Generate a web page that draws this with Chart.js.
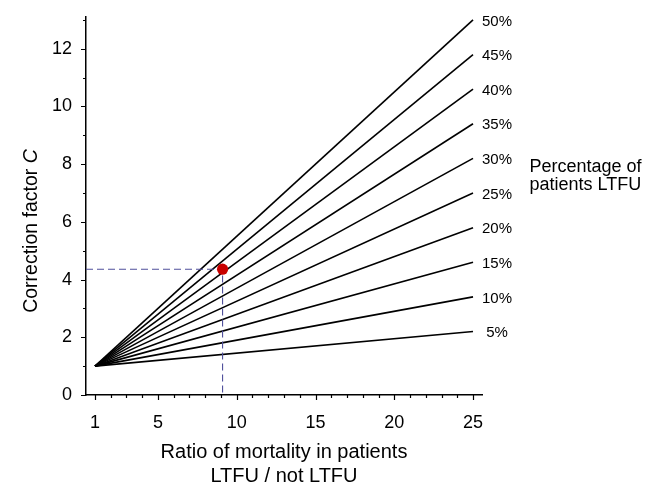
<!DOCTYPE html>
<html>
<head>
<meta charset="utf-8">
<script src="https://cdn.jsdelivr.net/npm/chart.js@4.4.1/dist/chart.umd.min.js"></script>
<style>
  html, body { margin: 0; padding: 0; background: #fff; }
  canvas { display: block; }
</style>
</head>
<body>
<canvas id="myChart" width="656" height="494"></canvas>
<script>
    // one line per percentage of patients lost to follow-up
    var pctLabels = ['5%', '10%', '15%', '20%', '25%', '30%', '35%', '40%', '45%', '50%'];
    // all lines start at ratio 1 / correction 1 and end at ratio 25
    var ratioStart = 1;
    var ratioEnd = 25;
    var cStart = 1;
    var cEnd = [2.2, 3.4, 4.6, 5.8, 7.0, 8.2, 9.4, 10.6, 11.8, 13.0];
    // worked example (red dot + dashed guides)
    var exampleRatio = 9.1;
    var exampleC = 4.36;
    var xTicks = [1, 5, 10, 15, 20, 25];
    var yTicks = [0, 2, 4, 6, 8, 10, 12];

    var fontFamily = "'Liberation Sans', Arial, sans-serif";
    var xMin = 0.43, xMax = 25.57, yMin = 0, yMax = 13.1;

    var datasets = [];
    datasets.push({
      data: [{x: exampleRatio, y: exampleC}],
      showLine: false,
      pointRadius: 5.6,
      pointBackgroundColor: '#c80000',
      pointBorderWidth: 0,
      order: 0
    });
    datasets.push({
      data: [{x: xMin, y: exampleC}, {x: exampleRatio, y: exampleC}, {x: exampleRatio, y: yMin}],
      showLine: true,
      borderColor: '#50509c',
      borderWidth: 1.1,
      borderDash: [7, 4],
      pointRadius: 0,
      order: 1
    });
    for (var i = 0; i < pctLabels.length; i++) {
      datasets.push({
        label: pctLabels[i],
        data: [{x: ratioStart, y: cStart}, {x: ratioEnd, y: cEnd[i]}],
        showLine: true,
        borderColor: '#000',
        borderWidth: 1.6,
        pointRadius: 0,
        order: 2
      });
    }

    // small outward tick marks, longer at labelled values
    var tickMarks = {
      id: 'tickMarks',
      afterDraw: function(chart) {
        var ctx = chart.ctx, xs = chart.scales.x, ys = chart.scales.y;
        ctx.save();
        ctx.strokeStyle = '#000';
        ctx.lineWidth = 1.2;
        ctx.beginPath();
        for (var v = 1; v <= 25; v++) {
          var px = Math.round(xs.getPixelForValue(v)) + 0.5;
          var len = xTicks.indexOf(v) >= 0 ? 5 : 3;
          ctx.moveTo(px, ys.bottom);
          ctx.lineTo(px, ys.bottom + len);
        }
        for (var w = 0; w <= 13; w++) {
          var py = Math.round(ys.getPixelForValue(w)) + 0.5;
          var len2 = yTicks.indexOf(w) >= 0 ? 5 : 3;
          ctx.moveTo(xs.left, py);
          ctx.lineTo(xs.left - len2, py);
        }
        ctx.stroke();
        ctx.restore();
      }
    };

    // percentage labels at the line ends, y axis title with italic C, side note
    var textBits = {
      id: 'textBits',
      afterDraw: function(chart) {
        var ctx = chart.ctx, xs = chart.scales.x, ys = chart.scales.y;
        ctx.save();
        ctx.fillStyle = '#000';
        ctx.font = '15px ' + fontFamily;
        ctx.textAlign = 'center';
        ctx.textBaseline = 'middle';
        for (var i = 0; i < pctLabels.length; i++) {
          ctx.fillText(pctLabels[i], xs.getPixelForValue(ratioEnd) + 24, ys.getPixelForValue(cEnd[i]) + 1.5);
        }

        ctx.textAlign = 'left';
        ctx.textBaseline = 'alphabetic';
        ctx.font = '18px ' + fontFamily;
        ctx.fillText('Percentage of', chart.chartArea.right + 47.5, 172.3);
        ctx.fillText('patients LTFU', chart.chartArea.right + 47.5, 190);

        var part1 = 'Correction factor ';
        var normalFont = '19.5px ' + fontFamily;
        var italicFont = 'italic 19.5px ' + fontFamily;
        ctx.font = normalFont;
        var w1 = ctx.measureText(part1).width;
        ctx.font = italicFont;
        var w2 = ctx.measureText('C').width;
        ctx.translate(37, 231);
        ctx.rotate(-Math.PI / 2);
        var start = -(w1 + w2) / 2;
        ctx.font = normalFont;
        ctx.fillText(part1, start, 0);
        ctx.font = italicFont;
        ctx.fillText('C', start + w1, 0);
        ctx.restore();
      }
    };

    var ctx = document.getElementById('myChart');
    var myChart = new Chart(ctx, {
      type: 'scatter',
      data: { datasets: datasets },
      options: {
        responsive: false,
        animation: false,
        events: [],
        layout: { padding: { left: 0, top: 17, right: 174, bottom: 0 } },
        plugins: {
          legend: { display: false },
          tooltip: { enabled: false }
        },
        scales: {
          x: {
            type: 'linear',
            min: xMin,
            max: xMax,
            afterBuildTicks: function(scale) {
              scale.ticks = xTicks.map(function(v) { return {value: v}; });
            },
            afterFit: function(scale) {
              scale.height = 99;
              scale.paddingLeft = 0;
              scale.paddingRight = 0;
            },
            grid: { display: true, drawOnChartArea: false, drawTicks: false },
            border: { display: true, color: '#000', width: 1.5 },
            ticks: {
              color: '#000',
              padding: 17,
              maxRotation: 0,
              font: { family: fontFamily, size: 18 }
            },
            title: {
              display: true,
              text: ['Ratio of mortality in patients', 'LTFU / not LTFU'],
              color: '#000',
              font: { family: fontFamily, size: 20, lineHeight: 1.17 },
              padding: { top: 0, bottom: 6 }
            }
          },
          y: {
            type: 'linear',
            min: yMin,
            max: yMax,
            afterBuildTicks: function(scale) {
              scale.ticks = yTicks.map(function(v) { return {value: v}; });
            },
            afterFit: function(scale) {
              scale.width = 86;
              scale.paddingTop = 0;
              scale.paddingBottom = 0;
            },
            grid: { display: true, drawOnChartArea: false, drawTicks: false },
            border: { display: true, color: '#000', width: 1.5 },
            ticks: {
              color: '#000',
              padding: 14,
              font: { family: fontFamily, size: 18 }
            }
          }
        }
      },
      plugins: [tickMarks, textBits]
    });
</script>
</body>
</html>
